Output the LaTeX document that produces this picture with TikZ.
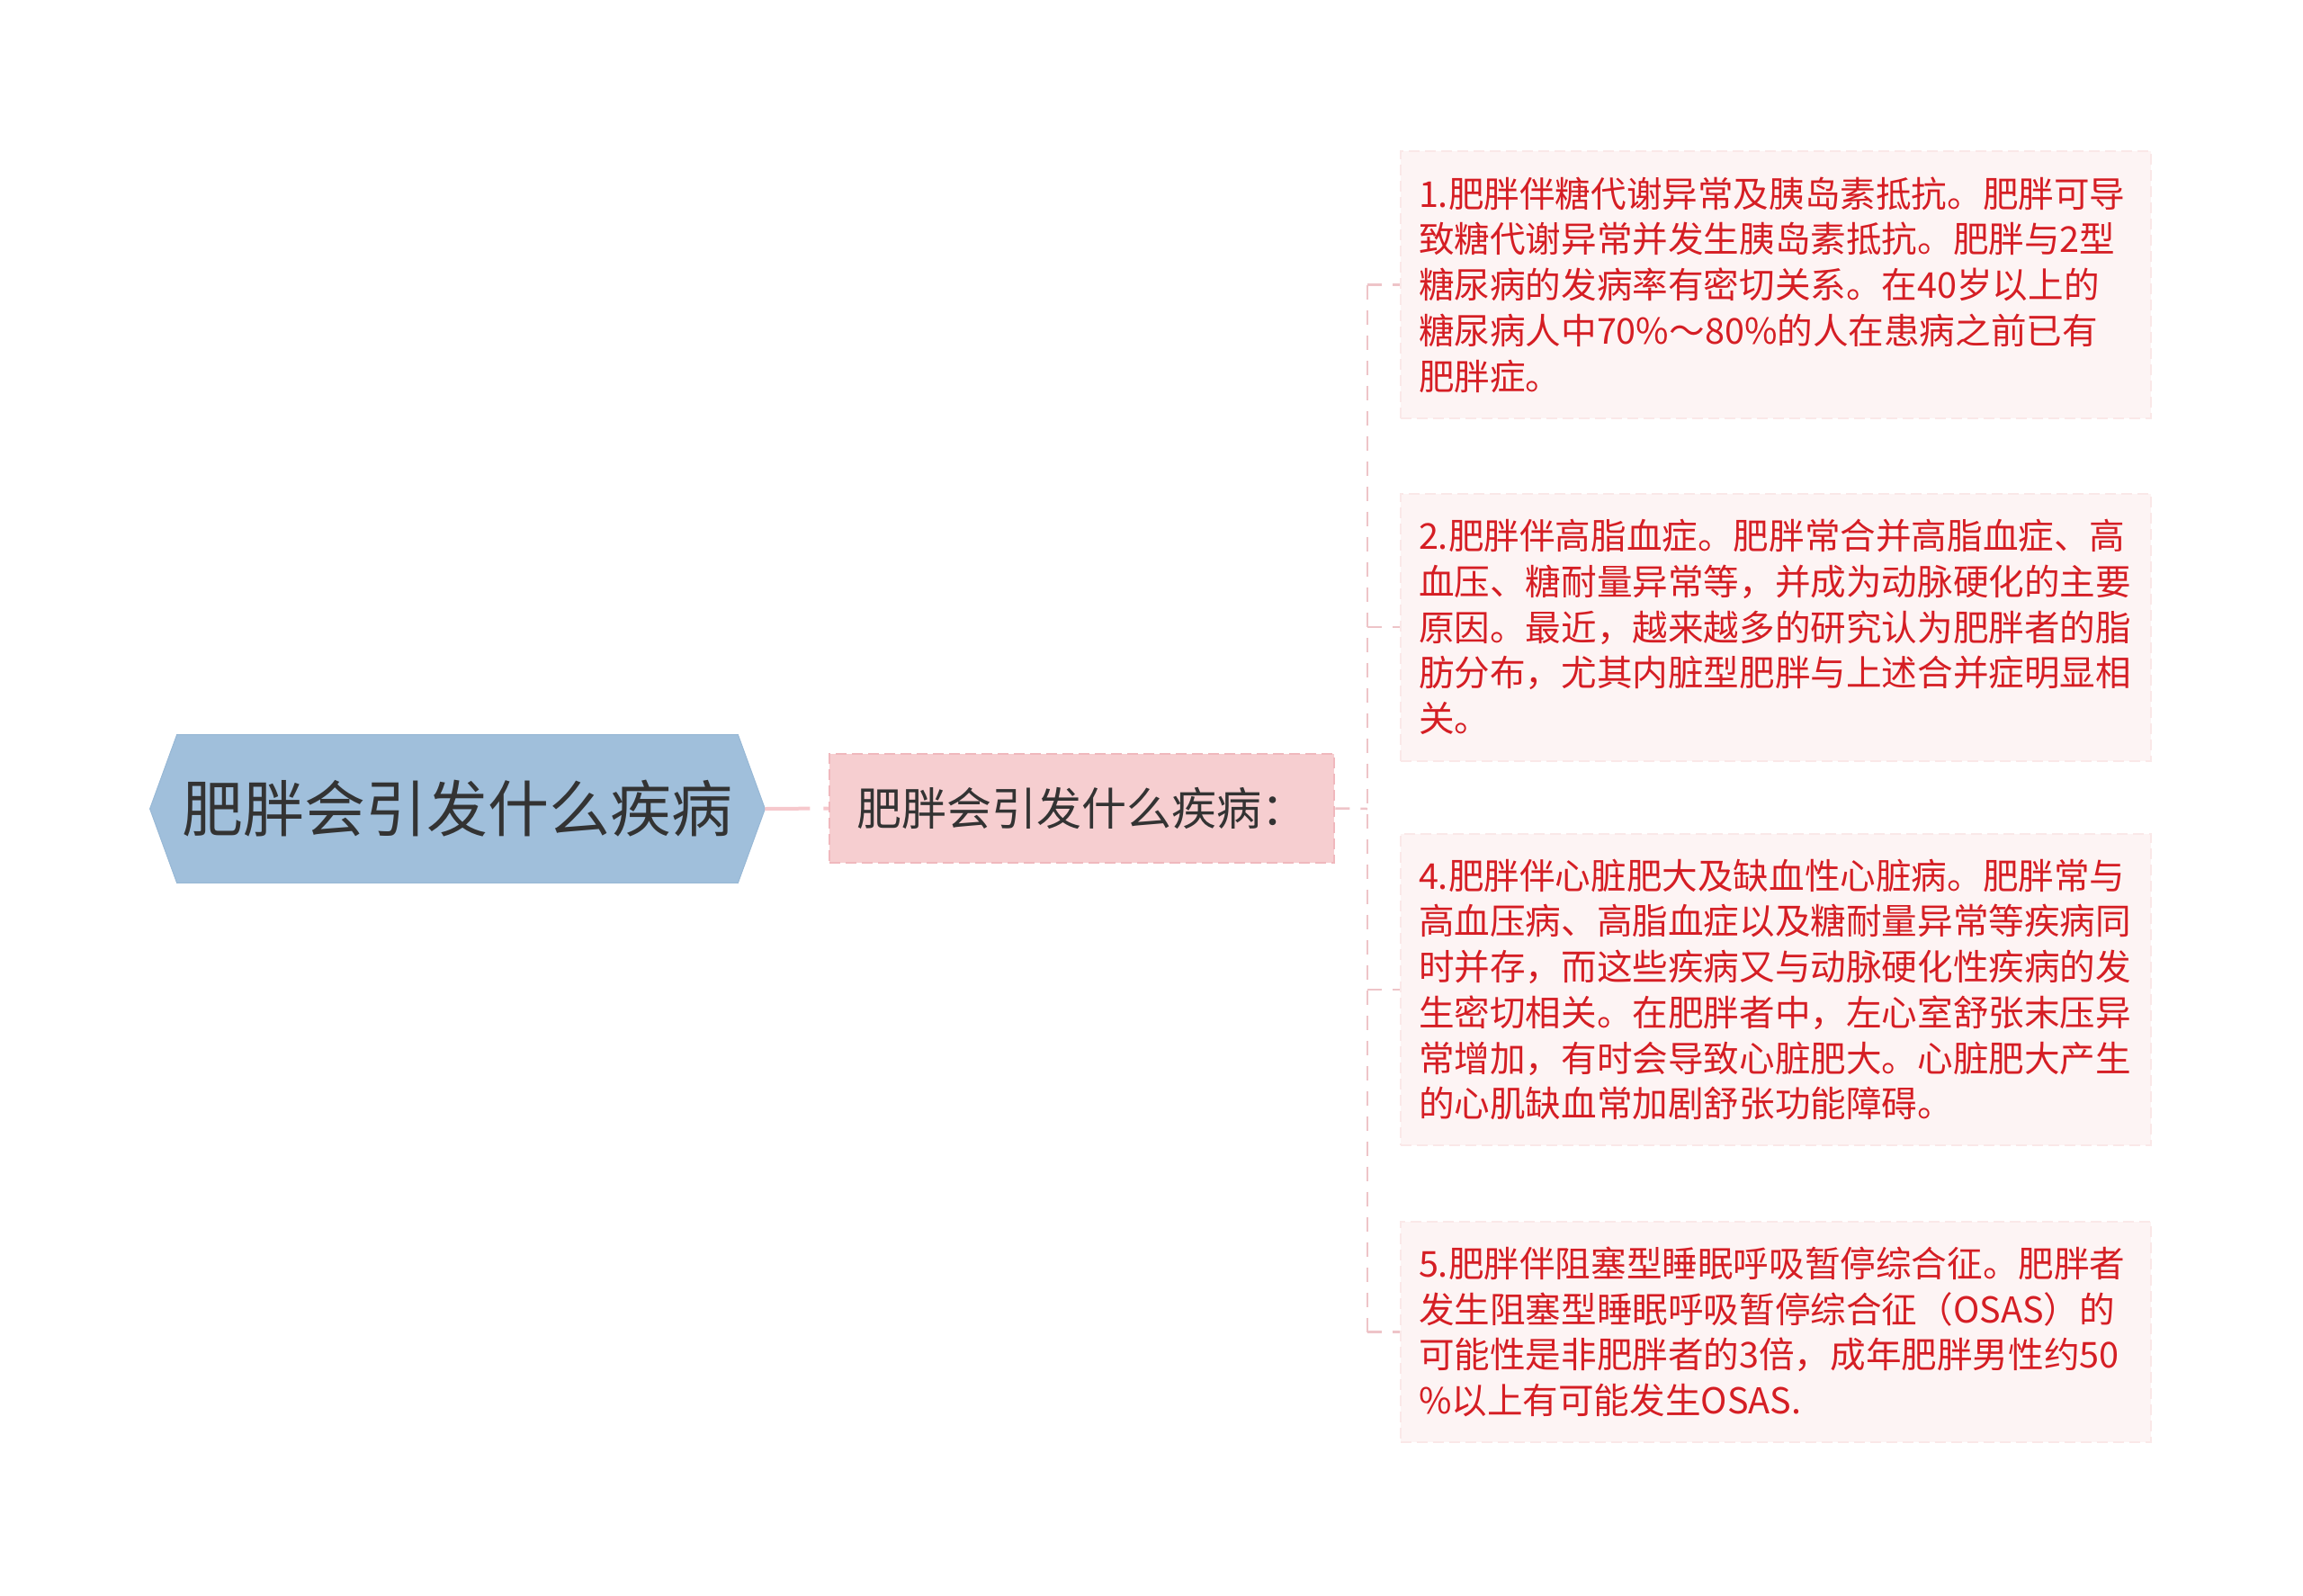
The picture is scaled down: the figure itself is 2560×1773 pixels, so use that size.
\documentclass[tikz,border=0pt]{standalone}
\usepackage{fontspec}
\setmainfont{Noto Sans CJK SC}
\usetikzlibrary{backgrounds}

\tikzset{every picture/.style={line width=0.75pt}}
\tikzset{
	root node/.style={inner sep=0pt, minimum width=683pt, minimum height=164pt,
		text={rgb, 255:red, 51; green, 51; blue, 51 }, font=\fontsize{68}{82}\selectfont},
	root fill/.style={fill={rgb, 255:red, 160; green, 191; blue, 219 }, draw={rgb, 255:red, 152; green, 184; blue, 213 }, line width=1pt},
	sub node/.style={inner sep=0pt, minimum width=561pt, minimum height=121pt,
		fill={rgb, 255:red, 246; green, 206; blue, 208 }, draw={rgb, 255:red, 240; green, 184; blue, 189 },
		line width=2.5pt, dash pattern=on 12pt off 6pt,
		text={rgb, 255:red, 51; green, 51; blue, 51 }, font=\fontsize{50}{60}\selectfont},
	leaf node/.style={inner xsep=20.5pt, inner ysep=0pt, text width=793pt, align=left,
		fill={rgb, 255:red, 253; green, 244; blue, 244 }, draw={rgb, 255:red, 250; green, 232; blue, 232 },
		line width=2pt, dash pattern=on 12pt off 6pt,
		text={rgb, 255:red, 213; green, 30; blue, 36 }, font=\fontsize{39.6}{50.7}\selectfont},
	root link/.style={draw={rgb, 255:red, 246; green, 200; blue, 204 }, line width=4pt, dash pattern=on 50pt off 15pt},
	branch link/.style={draw={rgb, 255:red, 238; green, 196; blue, 200 }, line width=2.5pt, dash pattern=on 16pt off 12pt}
}

\begin{document}
\begin{tikzpicture}[x=1pt,y=1pt,yscale=-1,xscale=1]
	\useasboundingbox (0,0) rectangle (2560,1773);

	% Text Node
	\node [root node] (root) at (508.5,899) {肥胖会引发什么疾病};
	%Shape: Hexagon
	\begin{scope}[on background layer]
		\filldraw [root fill] (root.west) -- ([xshift=30pt]root.north west) -- ([xshift=-30pt]root.north east) -- (root.east) -- ([xshift=-30pt]root.south east) -- ([xshift=30pt]root.south west) -- cycle ;
	\end{scope}

	% Text Node
	\node [sub node] (sub) at (1202.5,898.5) {肥胖会引发什么疾病：};

	% Text Node
	\node [leaf node, minimum height=297pt] (l1) at (1973.5,316.5) {1.肥胖伴糖代谢异常及胰岛素抵抗。肥胖可导\\
致糖代谢异常并发生胰岛素抵抗。肥胖与2型\\
糖尿病的发病率有密切关系。在40岁以上的\\
糖尿病人中70\%～80\%的人在患病之前已有\\
肥胖症。};
	% Text Node
	\node [leaf node, minimum height=297pt] (l2) at (1973.5,697) {2.肥胖伴高脂血症。肥胖常合并高脂血症、高\\
血压、糖耐量异常等，并成为动脉硬化的主要\\
原因。最近，越来越多的研究认为肥胖者的脂\\
肪分布，尤其内脏型肥胖与上述合并症明显相\\
关。};
	% Text Node
	\node [leaf node, minimum height=346pt] (l3) at (1973.5,1100) {4.肥胖伴心脏肥大及缺血性心脏病。肥胖常与\\
高血压病、高脂血症以及糖耐量异常等疾病同\\
时并存，而这些疾病又与动脉硬化性疾病的发\\
生密切相关。在肥胖者中，左心室舒张末压异\\
常增加，有时会导致心脏肥大。心脏肥大产生\\
的心肌缺血常加剧舒张功能障碍。};
	% Text Node
	\node [leaf node, minimum height=245pt] (l4) at (1973.5,1480.5) {5.肥胖伴阻塞型睡眠呼吸暂停综合征。肥胖者\\
发生阻塞型睡眠呼吸暂停综合征（OSAS）的\\
可能性是非肥胖者的3倍，成年肥胖男性约50\\
\%以上有可能发生OSAS.};

	%Connectors
	\coordinate (trunk) at (1520,899);
	\draw [root link] (root.east) -- (sub.west);
	\draw [branch link] (sub.east) -- (trunk);
	\draw [branch link] (trunk |- l1.west) -- (trunk |- l4.west);
	\draw [branch link] (trunk |- l1.west) -- (l1.west);
	\draw [branch link] (trunk |- l2.west) -- (l2.west);
	\draw [branch link] (trunk |- l3.west) -- (l3.west);
	\draw [branch link] (trunk |- l4.west) -- (l4.west);

\end{tikzpicture}
\end{document}
